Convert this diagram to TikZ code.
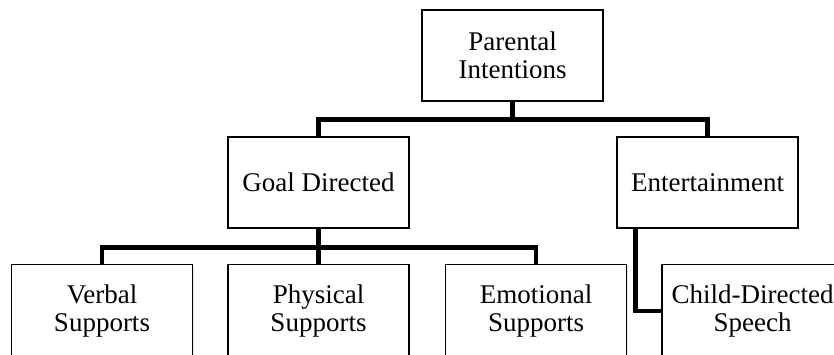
\documentclass[tikz,border=0pt]{standalone}
\usepackage{fontspec}
\setmainfont{Liberation Serif}
\usepackage{tikz}
\usetikzlibrary{positioning,shadows,calc}
\tikzset{
  box/.style={draw, line width=1.2pt, fill=white, minimum width=181pt, minimum height=91pt,
    inner sep=0pt, align=center, font=\fontsize{27}{28}\selectfont,
    drop shadow={shadow xshift=1.2pt, shadow yshift=-1.2pt, opacity=0.2}},
  leaf/.style={box, minimum height=93pt},
  link/.style={line width=4.8pt},
}
\begin{document}
\begin{tikzpicture}[x=1pt,y=-1pt]
  \useasboundingbox (0,0) rectangle (834,355);
  \node[box] (parent) at (512.5,55.5) {Parental\\Intentions};
  \node[box] (goal) at (318.5,182.5) {Goal Directed};
  \node[box] (ent) at (707.5,182.5) {Entertainment};
  \node[leaf] (verbal) at (102,311) {Verbal\\Supports};
  \node[leaf] (physical) at (318.5,311) {Physical\\Supports};
  \node[leaf] (emotional) at (536,311) {Emotional\\Supports};
  \node[leaf] (child) at (752.5,311) {Child-Directed\\Speech};
  % top level
  \draw[link] (parent.south) -- ++(0,18) -| (goal.north);
  \draw[link] (parent.south) ++(0,18) -| (ent.north);
  % goal directed
  \draw[link] (goal.south) -- ++(0,19) -| (verbal.north);
  \draw[link] (goal.south) ++(0,19) -| (emotional.north);
  \draw[link] (goal.south) -- (physical.north);
  % entertainment
  \draw[link] ($(ent.south west)+(19,0)$) |- (child.west);
\end{tikzpicture}
\end{document}
